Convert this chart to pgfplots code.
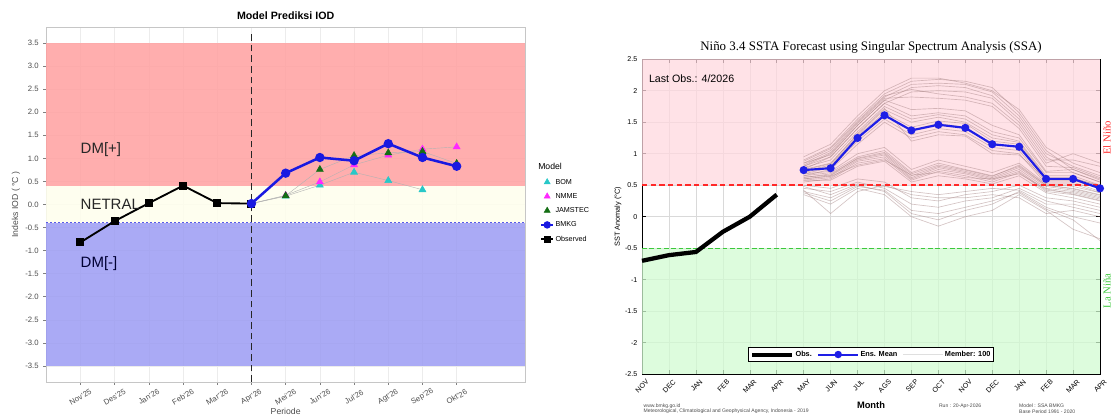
\documentclass[border=0pt]{standalone}
\usepackage{pgfplots}
\pgfplotsset{compat=1.18}
\usepackage{fontspec}
\setmainfont{Liberation Sans}
\newfontfamily\seriffont{Liberation Serif}

\definecolor{bandpink}{RGB}{255,160,160}
\definecolor{bandyel}{RGB}{254,254,236}
\definecolor{bandblue}{RGB}{155,155,243}
\definecolor{bomc}{RGB}{40,200,200}
\definecolor{nmmec}{RGB}{255,40,255}
\definecolor{jamc}{RGB}{20,110,20}
\definecolor{bmkgc}{RGB}{25,25,225}
\definecolor{tickgray}{RGB}{77,77,77}
\definecolor{rpink}{RGB}{255,216,223}
\definecolor{rgreen}{RGB}{209,251,209}
\definecolor{memc}{RGB}{160,125,125}
\definecolor{ensc}{RGB}{30,30,230}
\definecolor{dashred}{RGB}{255,40,40}
\definecolor{dashgreen}{RGB}{60,200,60}
\definecolor{dashblue}{RGB}{90,90,230}

\pgfplotsset{
  member/.style={memc, opacity=0.45, line width=0.5pt, forget plot},
}

\begin{document}
\begin{tikzpicture}
\path[use as bounding box] (0,0) rectangle (834.75pt,314.25pt);

% ================= LEFT PANEL =================
\begin{axis}[
  at={(34.7pt,27.75pt)}, anchor=south west, scale only axis,
  width=359.1pt, height=266.25pt,
  xmin=-1, xmax=13, ymin=-3.85, ymax=3.85,
  clip=false,
  axis line style={draw=gray!45, line width=0.6pt},
  xtick={0,...,11},
  xticklabels={Nov'25,Des'25,Jan'26,Feb'26,Mar'26,Apr'26,Mei'26,Jun'26,Jul'26,Agt'26,Sep'26,Okt'26},
  ytick={-3.5,-3,...,3.5},
  yticklabel style={/pgf/number format/.cd, fixed, fixed zerofill, precision=1, assume math mode=true},
  tick align=outside, xtick pos=bottom, ytick pos=left,
  major tick length=2.2pt, tick style={gray, line width=0.4pt},
  ticklabel style={font=\fontsize{5.8}{6}\selectfont, text=tickgray},
  xticklabel style={yshift=-9pt, rotate=30, anchor=center},
  grid=major, grid style={gray!15, line width=0.4pt},
  title={Model Prediksi IOD},
  every axis title/.style={at={(0.5,1)}, anchor=center, yshift=8.5pt, font=\bfseries\fontsize{8}{9}\selectfont},
  xlabel={Periode}, ylabel={Indeks IOD ( °C )},
  every axis x label/.style={at={(axis description cs:0.5,0)}, anchor=center, yshift=-22pt, font=\fontsize{6.5}{7}\selectfont, text=tickgray},
  every axis y label/.style={at={(axis description cs:0,0.5)}, xshift=-22.7pt, rotate=90, anchor=center, font=\fontsize{6.5}{7}\selectfont, text=tickgray},
  legend style={at={(rel axis cs:1.031,0.577)}, anchor=north west, draw=none, fill=none,
    font=\fontsize{5.4}{6}\selectfont, row sep=3.7pt, inner sep=0pt,
    nodes={inner sep=1pt, text height=4pt, text depth=1pt}, cells={anchor=west}},
  legend image code/.code={\draw[mark repeat=2, mark phase=2, #1] plot coordinates {(0pt,0pt) (4.5pt,0pt) (9pt,0pt)};},
]
\addlegendimage{only marks, mark=triangle*, mark size=2.6pt, bomc}
\addlegendentry{BOM}
\addlegendimage{only marks, mark=triangle*, mark size=2.6pt, nmmec}
\addlegendentry{NMME}
\addlegendimage{only marks, mark=triangle*, mark size=2.6pt, jamc}
\addlegendentry{JAMSTEC}
\addlegendimage{bmkgc, line width=1.5pt, mark=*, mark size=2pt}
\addlegendentry{BMKG}
\addlegendimage{black, line width=1.5pt, mark=square*, mark size=2pt}
\addlegendentry{Observed}

% bands
\addplot[draw=none, fill=bandpink, fill opacity=0.85, forget plot] coordinates {(-1,0.4) (13,0.4) (13,3.5) (-1,3.5)} -- cycle;
\addplot[draw=none, fill=bandyel, fill opacity=0.85, forget plot] coordinates {(-1,-0.4) (13,-0.4) (13,0.4) (-1,0.4)} -- cycle;
\addplot[draw=none, fill=bandblue, fill opacity=0.85, forget plot] coordinates {(-1,-3.5) (13,-3.5) (13,-0.4) (-1,-0.4)} -- cycle;
\addplot[dashblue, line width=0.7pt, dash pattern=on 1.5pt off 1.5pt, forget plot] coordinates {(-1,-0.4) (13,-0.4)};
\addplot[black!85, line width=1.3pt, dash pattern=on 5pt off 3pt, forget plot] coordinates {(5,-3.85) (5,3.75)};

% thin model lines
\addplot[gray!60, line width=0.3pt, forget plot] coordinates {(5,0.02)(6,0.18)(7,0.42)(8,0.70)(9,0.52)(10,0.32)};
\addplot[gray!60, line width=0.3pt, forget plot] coordinates {(5,0.02)(6,0.20)(7,0.49)(8,0.86)(9,1.07)(10,1.20)(11,1.25)};
\addplot[gray!60, line width=0.3pt, forget plot] coordinates {(5,0.02)(6,0.19)(7,0.76)(8,1.06)(9,1.12)(10,1.15)(11,0.89)};

% observed
\addplot[black, line width=1.4pt, mark=square*, mark size=2.3pt, forget plot] coordinates {(0,-0.82)(1,-0.36)(2,0.03)(3,0.41)(4,0.03)(5,0.02)};

% model markers
\addplot[only marks, mark=triangle*, mark size=3pt, bomc, forget plot] coordinates {(6,0.18)(7,0.42)(8,0.70)(9,0.52)(10,0.32)};
\addplot[only marks, mark=triangle*, mark size=3pt, nmmec, forget plot] coordinates {(6,0.20)(7,0.49)(8,0.86)(9,1.07)(10,1.20)(11,1.25)};
\addplot[only marks, mark=triangle*, mark size=3pt, jamc, forget plot] coordinates {(6,0.19)(7,0.76)(8,1.06)(9,1.12)(10,1.15)(11,0.89)};

% BMKG
\addplot[bmkgc, line width=1.9pt, mark=*, mark size=2.5pt, forget plot] coordinates {(5,0.02)(6,0.68)(7,1.02)(8,0.95)(9,1.32)(10,1.02)(11,0.83)};

\node[anchor=west, inner sep=0pt, font=\fontsize{11.25}{12}\selectfont, text=black!85] at (axis cs:0,1.2) {DM[+]};
\node[anchor=west, inner sep=0pt, font=\fontsize{11.25}{12}\selectfont, text=black!85] at (axis cs:0,0.0) {NETRAL};
\node[anchor=west, inner sep=0pt, font=\fontsize{11.25}{12}\selectfont, text=black!80!blue] at (axis cs:0,-1.28) {DM[-]};
\node[anchor=west, inner sep=0pt, font=\fontsize{6.5}{7}\selectfont] at (rel axis cs:1.027,0.608) {Model};
\end{axis}

% ================= RIGHT PANEL =================
\begin{axis}[
  at={(481.5pt,33.6pt)}, anchor=south west, scale only axis,
  width=343.5pt, height=236.25pt,
  xmin=0, xmax=17, ymin=-2.5, ymax=2.5,
  clip=false,
  xtick={0,...,17},
  xticklabels={NOV,DEC,JAN,FEB,MAR,APR,MAY,JUN,JUL,AGS,SEP,OCT,NOV,DEC,JAN,FEB,MAR,APR},
  ytick={-2.5,-2,...,2.5},
  yticklabel style={/pgf/number format/assume math mode=true},
  tick align=inside, major tick length=3pt, tick style={black, line width=0.4pt},
  grid=major, grid style={gray!30, line width=0.4pt},
  axis line style={black, line width=0.6pt},
  ticklabel style={font=\fontsize{5.3}{6}\selectfont},
  xticklabel style={rotate=45, anchor=north east, xshift=3pt, yshift=-1pt},
  title={Niño 3.4 SSTA Forecast using Singular Spectrum Analysis (SSA)},
  every axis title/.style={at={(0.5,1)}, anchor=center, yshift=9.2pt, font=\seriffont\fontsize{9.7}{11}\selectfont},
  xlabel={Month}, ylabel={SST Anomaly (°C)},
  every axis x label/.style={at={(axis description cs:0.5,0)}, anchor=center, yshift=-23pt, font=\bfseries\fontsize{7}{8}\selectfont},
  every axis y label/.style={at={(axis description cs:0,0.5)}, xshift=-18pt, rotate=90, anchor=center, font=\fontsize{5.5}{6}\selectfont},
  legend style={at={(0.5,0.0625)}, anchor=center, draw=black, line width=0.8pt, fill=white,
    legend columns=3, font=\bfseries\fontsize{5.5}{6}\selectfont, inner sep=1.5pt,
    nodes={inner sep=1pt}},
  /tikz/every even column/.append style={column sep=3pt},
  legend image code/.code={\draw[mark repeat=2, mark phase=2, #1] plot coordinates {(0pt,0pt) (15pt,0pt) (30pt,0pt)};},
]
\addlegendimage{black, line width=3pt}
\addlegendentry{Obs.}
\addlegendimage{ensc, line width=1.5pt, mark=*, mark size=2pt}
\addlegendentry{Ens. Mean}
\addlegendimage{gray!25, line width=0.6pt}
\addlegendentry{Member: 100}

% bands
\addplot[draw=none, fill=rpink, fill opacity=0.75, forget plot] coordinates {(0,0.5) (17,0.5) (17,2.5) (0,2.5)} -- cycle;
\addplot[draw=none, fill=rgreen, fill opacity=0.75, forget plot] coordinates {(0,-2.5) (17,-2.5) (17,-0.5) (0,-0.5)} -- cycle;

% members (upper)
\addplot[member] coordinates {(6,0.90)(7,1.10)(8,1.55)(9,1.95)(10,2.15)(11,2.18)(12,2.15)(13,2.05)(14,1.65)(15,1.05)(16,0.75)(17,0.60)};
\addplot[member] coordinates {(6,0.85)(7,1.05)(8,1.50)(9,1.90)(10,2.10)(11,2.12)(12,2.10)(13,1.98)(14,1.60)(15,1.00)(16,0.80)(17,0.65)};
\addplot[member] coordinates {(6,0.80)(7,1.00)(8,1.45)(9,1.85)(10,2.05)(11,2.08)(12,2.05)(13,1.92)(14,1.55)(15,0.95)(16,0.70)(17,0.55)};
\addplot[member] coordinates {(6,0.95)(7,1.15)(8,1.60)(9,2.00)(10,2.20)(11,2.20)(12,2.12)(13,2.00)(14,1.70)(15,1.10)(16,0.85)(17,0.70)};
\addplot[member] coordinates {(6,0.75)(7,0.95)(8,1.40)(9,1.80)(10,1.98)(11,2.00)(12,1.98)(13,1.88)(14,1.50)(15,0.90)(16,0.90)(17,0.80)};
\addplot[member] coordinates {(6,0.88)(7,1.08)(8,1.52)(9,1.92)(10,2.02)(11,1.95)(12,1.90)(13,1.80)(14,1.45)(15,0.85)(16,1.00)(17,0.85)};
\addplot[member] coordinates {(6,0.82)(7,1.02)(8,1.48)(9,1.88)(10,1.90)(11,1.88)(12,1.85)(13,1.75)(14,1.40)(15,0.80)(16,0.78)(17,0.62)};
% members (middle)
\addplot[member] coordinates {(6,0.80)(7,0.95)(8,1.40)(9,1.80)(10,1.60)(11,1.65)(12,1.60)(13,1.35)(14,1.25)(15,0.70)(16,0.70)(17,0.55)};
\addplot[member] coordinates {(6,0.78)(7,0.90)(8,1.35)(9,1.75)(10,1.55)(11,1.62)(12,1.55)(13,1.30)(14,1.20)(15,0.65)(16,0.65)(17,0.50)};
\addplot[member] coordinates {(6,0.75)(7,0.85)(8,1.30)(9,1.70)(10,1.50)(11,1.58)(12,1.50)(13,1.25)(14,1.18)(15,0.62)(16,0.62)(17,0.48)};
\addplot[member] coordinates {(6,0.72)(7,0.82)(8,1.28)(9,1.65)(10,1.42)(11,1.52)(12,1.48)(13,1.20)(14,1.15)(15,0.60)(16,0.60)(17,0.45)};
\addplot[member] coordinates {(6,0.70)(7,0.80)(8,1.25)(9,1.60)(10,1.38)(11,1.48)(12,1.42)(13,1.15)(14,1.10)(15,0.58)(16,0.58)(17,0.44)};
\addplot[member] coordinates {(6,0.68)(7,0.78)(8,1.20)(9,1.55)(10,1.30)(11,1.40)(12,1.35)(13,1.10)(14,1.05)(15,0.55)(16,0.55)(17,0.40)};
\addplot[member] coordinates {(6,0.85)(7,0.98)(8,1.45)(9,1.85)(10,1.70)(11,1.72)(12,1.68)(13,1.45)(14,1.30)(15,0.72)(16,0.75)(17,0.58)};
\addplot[member] coordinates {(6,0.65)(7,0.75)(8,1.15)(9,1.50)(10,1.25)(11,1.35)(12,1.30)(13,1.05)(14,1.00)(15,0.52)(16,0.52)(17,0.38)};
\addplot[member] coordinates {(6,0.74)(7,0.84)(8,1.32)(9,1.72)(10,1.20)(11,1.30)(12,1.28)(13,1.00)(14,0.98)(15,0.60)(16,0.60)(17,0.50)};
% members (lower)
\addplot[member] coordinates {(6,0.65)(7,0.70)(8,0.95)(9,1.05)(10,0.70)(11,0.85)(12,0.75)(13,0.65)(14,0.80)(15,0.50)(16,0.45)(17,0.35)};
\addplot[member] coordinates {(6,0.62)(7,0.68)(8,0.92)(9,1.00)(10,0.65)(11,0.80)(12,0.72)(13,0.62)(14,0.78)(15,0.48)(16,0.42)(17,0.32)};
\addplot[member] coordinates {(6,0.60)(7,0.65)(8,0.90)(9,0.98)(10,0.62)(11,0.78)(12,0.70)(13,0.60)(14,0.75)(15,0.45)(16,0.40)(17,0.30)};
\addplot[member] coordinates {(6,0.58)(7,0.62)(8,0.88)(9,0.95)(10,0.60)(11,0.75)(12,0.68)(13,0.58)(14,0.72)(15,0.42)(16,0.38)(17,0.28)};
\addplot[member] coordinates {(6,0.68)(7,0.72)(8,1.00)(9,1.10)(10,0.75)(11,0.90)(12,0.80)(13,0.70)(14,0.85)(15,0.52)(16,0.48)(17,0.38)};
\addplot[member] coordinates {(6,0.55)(7,0.60)(8,0.85)(9,0.92)(10,0.58)(11,0.72)(12,0.65)(13,0.55)(14,0.70)(15,0.40)(16,0.35)(17,0.25)};
\addplot[member] coordinates {(6,0.63)(7,0.66)(8,0.93)(9,1.02)(10,0.68)(11,0.82)(12,0.74)(13,0.64)(14,0.82)(15,0.50)(16,0.44)(17,0.34)};
\addplot[member] coordinates {(6,0.57)(7,0.58)(8,0.80)(9,0.88)(10,0.55)(11,0.65)(12,0.60)(13,0.52)(14,0.65)(15,0.38)(16,0.30)(17,0.20)};
\addplot[member] coordinates {(6,0.60)(7,0.64)(8,0.82)(9,0.90)(10,0.66)(11,0.70)(12,0.62)(13,0.60)(14,0.68)(15,0.44)(16,0.36)(17,0.26)};
% members (below 0.5)
\addplot[member] coordinates {(6,0.45)(7,0.40)(8,0.55)(9,0.45)(10,0.20)(11,0.15)(12,0.25)(13,0.30)(14,0.45)(15,0.25)(16,0.15)(17,0.05)};
\addplot[member] coordinates {(6,0.40)(7,0.30)(8,0.50)(9,0.40)(10,0.05)(11,-0.05)(12,0.10)(13,0.20)(14,0.40)(15,0.15)(16,0.00)(17,-0.10)};
\addplot[member] coordinates {(6,0.35)(7,0.20)(8,0.45)(9,0.35)(10,0.00)(11,-0.15)(12,0.00)(13,0.10)(14,0.35)(15,0.10)(16,-0.20)(17,-0.35)};
\addplot[member] coordinates {(6,0.50)(7,0.45)(8,0.60)(9,0.55)(10,0.30)(11,0.25)(12,0.35)(13,0.40)(14,0.50)(15,0.30)(16,0.25)(17,0.15)};
\addplot[member] coordinates {(6,0.42)(7,0.05)(8,0.40)(9,0.50)(10,0.35)(11,0.30)(12,0.30)(13,0.35)(14,0.30)(15,0.05)(16,0.10)(17,0.00)};
\addplot[member] coordinates {(6,0.48)(7,0.35)(8,0.52)(9,0.48)(10,0.40)(11,0.35)(12,0.40)(13,0.45)(14,0.42)(15,0.20)(16,0.20)(17,0.10)};
\addplot[member] coordinates {(6,0.38)(7,0.25)(8,0.48)(9,0.42)(10,0.10)(11,0.05)(12,0.15)(13,0.25)(14,0.38)(15,0.12)(16,-0.05)(17,-0.38)};

% threshold lines
\addplot[color=dashred, line width=1.3pt, dash pattern=on 4pt off 2.5pt, forget plot] coordinates {(0,0.5) (17,0.5)};
\addplot[color=dashgreen, line width=1pt, dash pattern=on 3.5pt off 2pt, forget plot] coordinates {(0,-0.5) (17,-0.5)};

% observed
\addplot[black, line width=3.2pt, forget plot] coordinates {(0,-0.70)(1,-0.61)(2,-0.56)(3,-0.24)(4,0.00)(5,0.35)};
% ensemble mean
\addplot[ensc, line width=1.6pt, mark=*, mark size=2.2pt, forget plot] coordinates {(6,0.74)(7,0.77)(8,1.25)(9,1.61)(10,1.37)(11,1.46)(12,1.41)(13,1.15)(14,1.11)(15,0.60)(16,0.60)(17,0.45)};

\node[anchor=west, inner sep=0pt, font=\fontsize{8}{9}\selectfont] at (axis cs:0.25,2.19) {Last Obs.: 4/2026};
\node[rotate=90, inner sep=0pt, text=dashred, font=\seriffont\fontsize{8}{9}\selectfont] at (rel axis cs:1.0153,0.75) {El Niño};
\node[rotate=90, inner sep=0pt, text=dashgreen, font=\seriffont\fontsize{8}{9}\selectfont] at (rel axis cs:1.0153,0.264) {La Niña};

\node[anchor=west, inner sep=0pt, font=\fontsize{3.8}{4}\selectfont, text=black!70] at (axis description cs:0.003,-0.103) {www.bmkg.go.id};
\node[anchor=west, inner sep=0pt, font=\fontsize{3.8}{4}\selectfont, text=black!70] at (axis description cs:0.003,-0.118) {Meteorological, Climatological and Geophysical Agency, Indonesia - 2019};
\node[anchor=west, inner sep=0pt, font=\fontsize{3.8}{4}\selectfont, text=black!70] at (axis description cs:0.648,-0.103) {Run : 20-Apr-2026};
\node[anchor=west, inner sep=0pt, font=\fontsize{3.8}{4}\selectfont, text=black!70] at (axis description cs:0.823,-0.101) {Model : SSA BMKG};
\node[anchor=west, inner sep=0pt, font=\fontsize{3.8}{4}\selectfont, text=black!70] at (axis description cs:0.823,-0.118) {Base Period 1991 - 2020};
\end{axis}
\end{tikzpicture}
\end{document}
